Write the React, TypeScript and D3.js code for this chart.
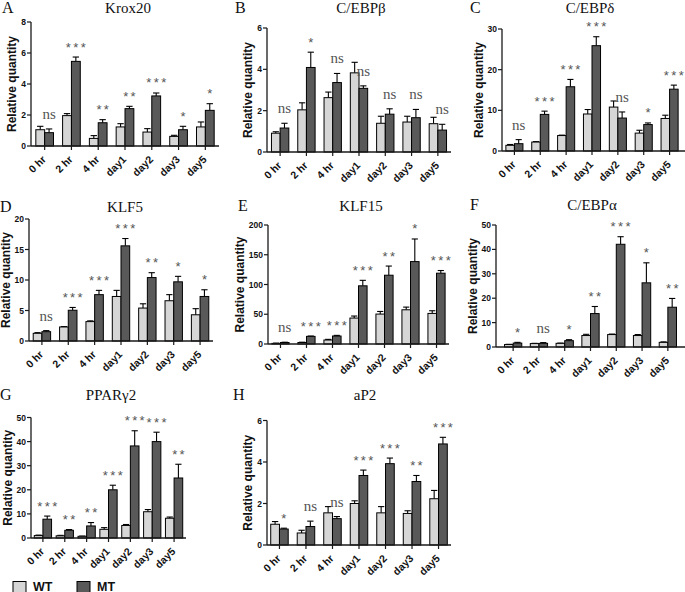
import React from "react";
import * as d3 from "d3";

// ---------- data ----------
const categories = ["0 hr", "2 hr", "4 hr", "day1", "day2", "day3", "day5"];
const seriesNames = ["WT", "MT"];
const seriesColors = ["#d6d6d6", "#595959"];

// A Krox20
const krox20Ticks = [0, 2, 4, 6, 8];
const krox20WT = [1.05, 1.96, 0.49, 1.23, 0.9, 0.62, 1.23];
const krox20WTErr = [0.22, 0.13, 0.18, 0.21, 0.22, 0.07, 0.32];
const krox20MT = [0.86, 5.46, 1.5, 2.41, 3.23, 1.05, 2.3];
const krox20MTErr = [0.24, 0.28, 0.2, 0.15, 0.19, 0.22, 0.43];
const krox20Sig = ["ns", "***", "**", "**", "***", "*", "*"];

// B C/EBPβ
const cebpbTicks = [0, 2, 4, 6];
const cebpbWT = [0.91, 2.04, 2.63, 3.83, 1.39, 1.45, 1.37];
const cebpbWTErr = [0.07, 0.34, 0.27, 0.51, 0.34, 0.28, 0.31];
const cebpbMT = [1.16, 4.09, 3.36, 3.08, 1.83, 1.66, 1.06];
const cebpbMTErr = [0.23, 0.74, 0.44, 0.12, 0.26, 0.4, 0.28];
const cebpbSig = ["ns", "*", "ns", "ns", "ns", "ns", "ns"];

// C C/EBPδ
const cebpdTicks = [0, 10, 20, 30];
const cebpdWT = [1.4, 2.2, 3.8, 9.1, 10.8, 4.4, 8.0];
const cebpdWTErr = [0.2, 0.1, 0.1, 1.1, 1.5, 0.7, 0.8];
const cebpdMT = [1.8, 9.0, 15.8, 25.9, 8.1, 6.5, 15.2];
const cebpdMTErr = [1.0, 0.8, 1.8, 2.2, 1.5, 0.4, 1.0];
const cebpdSig = ["ns", "***", "***", "***", "ns", "*", "***"];

// D KLF5
const klf5Ticks = [0, 5, 10, 15, 20];
const klf5WT = [1.26, 2.3, 3.18, 7.3, 5.4, 6.6, 4.3];
const klf5WTErr = [0.11, 0.06, 0.12, 1.0, 0.7, 1.0, 1.0];
const klf5MT = [1.53, 5.04, 7.6, 15.6, 10.4, 9.7, 7.3];
const klf5MTErr = [0.17, 0.46, 0.7, 1.2, 0.8, 0.9, 1.1];
const klf5Sig = ["ns", "***", "***", "***", "**", "*", "*"];

// E KLF15
const klf15Ticks = [0, 50, 100, 150, 200];
const klf15WT = [1, 2.5, 6.7, 43.6, 50.3, 57.5, 51.4];
const klf15WTErr = [0.5, 0.5, 1.1, 3.4, 4.4, 4.5, 4.5];
const klf15MT = [2.5, 12.8, 13.4, 97.8, 115.6, 138.5, 119];
const klf15MTErr = [0.5, 0.6, 1.1, 9.2, 15.4, 38, 4.5];
const klf15Sig = ["ns", "***", "***", "***", "**", "*", "***"];

// F C/EBPα
const cebpaTicks = [0, 10, 20, 30, 40, 50];
const cebpaWT = [1.0, 1.4, 1.5, 4.7, 5.1, 4.7, 1.9];
const cebpaWTErr = [0.1, 0.1, 0.1, 0.5, 0.2, 0.4, 0.2];
const cebpaMT = [1.6, 1.5, 2.6, 13.7, 42.1, 26.3, 16.3];
const cebpaMTErr = [0.3, 0.3, 0.4, 2.9, 3.1, 8.2, 3.6];
const cebpaSig = ["*", "ns", "*", "**", "***", "*", "**"];

// G PPARγ2
const pparTicks = [0, 10, 20, 30, 40, 50];
const pparWT = [1.0, 0.9, 0.7, 3.6, 5.2, 10.9, 8.2];
const pparWTErr = [0.2, 0.2, 0.1, 0.7, 0.4, 0.9, 0.5];
const pparMT = [7.8, 3.2, 5.0, 20.0, 38.2, 40.0, 24.9];
const pparMTErr = [1.3, 0.3, 1.4, 1.9, 6.3, 3.9, 5.7];
const pparSig = ["***", "**", "**", "***", "***", "***", "**"];

// H aP2
const ap2Ticks = [0, 2, 4, 6];
const ap2WT = [1.0, 0.58, 1.55, 2.0, 1.55, 1.52, 2.23];
const ap2WTErr = [0.13, 0.13, 0.3, 0.13, 0.3, 0.13, 0.4];
const ap2MT = [0.77, 0.89, 1.27, 3.35, 3.92, 3.06, 4.87];
const ap2MTErr = [0.04, 0.26, 0.1, 0.26, 0.27, 0.29, 0.32];
const ap2Sig = ["*", "ns", "ns", "***", "***", "**", "***"];

const yLabel = "Relative quantity";

// ---------- layout ----------
const panels = [
  { letter: "A", title: "Krox20", ticks: krox20Ticks, wt: krox20WT, wtErr: krox20WTErr, mt: krox20MT, mtErr: krox20MTErr, sig: krox20Sig,
    x0: 31, x1: 219, axisEnd: 219, yTop: 22, yZero: 146, pi: 0.34, po: 0.18, titleX: 128, titleY: 12.5, letterX: 2, letterY: 12.5 },
  { letter: "B", title: "C/EBPβ", ticks: cebpbTicks, wt: cebpbWT, wtErr: cebpbWTErr, mt: cebpbMT, mtErr: cebpbMTErr, sig: cebpbSig,
    x0: 267, x1: 451, axisEnd: 451, yTop: 28, yZero: 152, pi: 0.34, po: 0.17, titleX: 361, titleY: 13, letterX: 235, letterY: 13 },
  { letter: "C", title: "C/EBPδ", ticks: cebpdTicks, wt: cebpdWT, wtErr: cebpdWTErr, mt: cebpdMT, mtErr: cebpdMTErr, sig: cebpdSig,
    x0: 502, x1: 682, axisEnd: 685, yTop: 29, yZero: 151, pi: 0.34, po: 0.15, titleX: 590, titleY: 13, letterX: 470, letterY: 13 },
  { letter: "D", title: "KLF5", ticks: klf5Ticks, wt: klf5WT, wtErr: klf5WTErr, mt: klf5MT, mtErr: klf5MTErr, sig: klf5Sig,
    x0: 29, x1: 213, axisEnd: 213, yTop: 219, yZero: 341, pi: 0.34, po: 0.16, titleX: 125, titleY: 211.5, letterX: 0, letterY: 211.5 },
  { letter: "E", title: "KLF15", ticks: klf15Ticks, wt: klf15WT, wtErr: klf15WTErr, mt: klf15MT, mtErr: klf15MTErr, sig: klf15Sig,
    x0: 268, x1: 449, axisEnd: 449, yTop: 225, yZero: 344, pi: 0.34, po: 0.15, titleX: 361, titleY: 211, letterX: 238, letterY: 211 },
  { letter: "F", title: "C/EBPα", ticks: cebpaTicks, wt: cebpaWT, wtErr: cebpaWTErr, mt: cebpaMT, mtErr: cebpaMTErr, sig: cebpaSig,
    x0: 496, x1: 685, axisEnd: 685, yTop: 225, yZero: 347, pi: 0.33, po: 0.33, titleX: 592, titleY: 210, letterX: 470, letterY: 210 },
  { letter: "G", title: "PPARγ2", ticks: pparTicks, wt: pparWT, wtErr: pparWTErr, mt: pparMT, mtErr: pparMTErr, sig: pparSig,
    x0: 31, x1: 186, axisEnd: 186, yTop: 417.5, yZero: 538, pi: 0.21, po: 0.15, titleX: 111, titleY: 399.5, letterX: 0, letterY: 399.5 },
  { letter: "H", title: "aP2", ticks: ap2Ticks, wt: ap2WT, wtErr: ap2WTErr, mt: ap2MT, mtErr: ap2MTErr, sig: ap2Sig,
    x0: 267, x1: 451, axisEnd: 451, yTop: 420.5, yZero: 545, pi: 0.34, po: 0.14, titleX: 365, titleY: 399.5, letterX: 233, letterY: 399.5 },
];

const SANS = "'Liberation Sans', Arial, Helvetica, sans-serif";
const SERIF = "'Liberation Serif', 'Times New Roman', Times, serif";
const AXIS = "#1a1a1a";
const SIG = "#555555";

function Panel({ p }: { p: any }) {
  const x = d3.scaleBand<string>().domain(categories).range([p.x0, p.x1]).paddingInner(p.pi).paddingOuter(p.po);
  const sub = d3.scaleBand<string>().domain(seriesNames).range([0, x.bandwidth()]);
  const y = d3.scaleLinear().domain([0, d3.max(p.ticks as number[]) as number]).range([p.yZero, p.yTop]);
  const bw = sub.bandwidth();
  const cap = bw * 0.72;
  const maxLen = d3.max(p.ticks as number[], (t: number) => String(t).length) as number;
  const labelCx = p.x0 - 5 - maxLen * 4.73 - 8;
  const midY = (p.yTop + p.yZero) / 2;
  const series = [
    { name: "WT", vals: p.wt, errs: p.wtErr, color: seriesColors[0] },
    { name: "MT", vals: p.mt, errs: p.mtErr, color: seriesColors[1] },
  ];
  return (
    <g>
      <text x={p.letterX} y={p.letterY} fontFamily={SERIF} fontSize={16} fill="#111">{p.letter}</text>
      <text x={p.titleX} y={p.titleY} fontFamily={SERIF} fontSize={15} fill="#111" textAnchor="middle">{p.title}</text>
      {/* bars */}
      {series.map((s) =>
        categories.map((c, i) => {
          const bx = (x(c) as number) + (sub(s.name) as number);
          const v = s.vals[i];
          const e = s.errs[i];
          const cx = bx + bw / 2;
          return (
            <g key={s.name + c}>
              <line x1={cx} x2={cx} y1={y(v)} y2={y(v + e)} stroke="#000" strokeWidth={1.1} />
              <line x1={cx - cap / 2} x2={cx + cap / 2} y1={y(v + e)} y2={y(v + e)} stroke="#000" strokeWidth={1.1} />
              <rect x={bx} y={y(v)} width={bw} height={p.yZero - y(v)} fill={s.color} stroke="#000" strokeWidth={1} />
            </g>
          );
        })
      )}
      {/* significance */}
      {categories.map((c, i) => {
        const cx = (x(c) as number) + (sub("MT") as number) + bw / 2;
        const top = y(p.mt[i] + p.mtErr[i]);
        const s = p.sig[i];
        if (s === "ns") {
          return (
            <text key={"s" + c} transform={`translate(${cx},${top - 10}) rotate(0.01)`} textAnchor="middle" fontFamily={SERIF} fontSize={15} fill={SIG}>ns</text>
          );
        }
        return (
          <text key={"s" + c} transform={`translate(${cx + 1.2},${top - 5.5}) rotate(0.01)`} textAnchor="middle" fontFamily={SANS} fontSize={13} fill={SIG} letterSpacing={2.4}>{s}</text>
        );
      })}
      {/* y axis */}
      <line x1={p.x0} x2={p.x0} y1={p.yZero} y2={p.yTop} stroke={AXIS} strokeWidth={1.3} />
      {(p.ticks as number[]).map((t) => (
        <g key={"t" + t}>
          <line x1={p.x0 - 4} x2={p.x0} y1={y(t)} y2={y(t)} stroke={AXIS} strokeWidth={1.2} />
          <text x={p.x0 - 5} y={y(t) + 3} textAnchor="end" fontFamily={SANS} fontWeight="bold" fontSize={8.5} fill="#111">{t}</text>
        </g>
      ))}
      <text transform={`translate(${labelCx + 3},${midY}) rotate(-90)`} textAnchor="middle" fontFamily={SANS} fontWeight="bold" fontSize={12} fill="#111">{yLabel}</text>
      {/* x axis */}
      <line x1={p.x0} x2={p.axisEnd} y1={p.yZero} y2={p.yZero} stroke={AXIS} strokeWidth={1.3} />
      {categories.map((c) => {
        const cx = (x(c) as number) + x.bandwidth() / 2;
        return (
          <g key={"x" + c}>
            <line x1={cx} x2={cx} y1={p.yZero} y2={p.yZero + 4} stroke={AXIS} strokeWidth={1.2} />
            <text transform={`translate(${cx + 2},${p.yZero + 14}) rotate(-45)`} textAnchor="end" fontFamily={SANS} fontWeight="bold" fontSize={10.5} fill="#111">{c}</text>
          </g>
        );
      })}
    </g>
  );
}

const legendX = [13, 77];

export default function App() {
  return (
    <svg width={685} height={592} viewBox="0 0 685 592" style={{ position: "absolute", left: 0, top: 0, background: "#fff" }}>
      <rect x={0} y={0} width={685} height={592} fill="#fff" />
      {panels.map((p) => (
        <Panel key={p.letter} p={p} />
      ))}
      {seriesNames.map((n, i) => (
        <g key={n}>
          <rect x={legendX[i]} y={581.5} width={13} height={13} fill={seriesColors[i]} stroke="#000" strokeWidth={1} />
          <text x={legendX[i] + 20} y={590.5} fontFamily={SANS} fontWeight="bold" fontSize={12.5} fill="#111">{n}</text>
        </g>
      ))}
    </svg>
  );
}
